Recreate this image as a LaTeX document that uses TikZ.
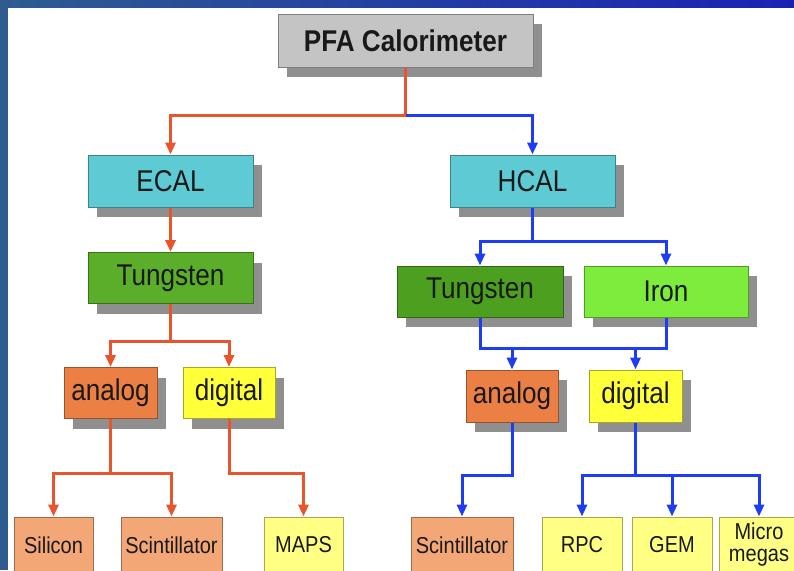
\documentclass[tikz,border=0pt]{standalone}
\usepackage{fontspec}
\setmainfont{Liberation Sans}[FakeStretch=0.87]
\usetikzlibrary{arrows.meta,shadows,calc}
\definecolor{stblue}{HTML}{2E5C8F}
\definecolor{deepblue}{HTML}{1A22B4}
\definecolor{lred}{HTML}{E8542C}
\definecolor{lblue}{HTML}{1E3CF5}
\definecolor{pfafill}{HTML}{C4C4C4}
\definecolor{shgray}{HTML}{8F8F8F}
\definecolor{cyanfill}{HTML}{5ECAD4}
\definecolor{tungL}{HTML}{5AAE2A}
\definecolor{tungR}{HTML}{4DA01F}
\definecolor{ironfill}{HTML}{7EEC3C}
\definecolor{anfill}{HTML}{EC8044}
\definecolor{digfill}{HTML}{FFFF3A}
\definecolor{leafor}{HTML}{F3A676}
\definecolor{leafye}{HTML}{FFFF84}
\tikzset{
  boxbase/.style={rectangle, inner sep=0pt, line width=1pt, text=black!90},
  shbox/.style={boxbase, fill=#1, draw=#1!65!black,
    drop shadow={shadow xshift=9pt, shadow yshift=-10pt, fill=shgray, draw=none, opacity=1},
    font=\fontsize{30}{32}\selectfont},
  leafbox/.style={boxbase, fill=#1, draw=#1!65!black, minimum height=56pt,
    align=center, font=\fontsize{23}{22}\selectfont},
  conn/.style={line width=3pt, line join=miter, -{Triangle[length=12pt,width=10pt]}},
  redl/.style={conn, draw=lred},
  bluel/.style={conn, draw=lblue},
}
\begin{document}
\begin{tikzpicture}[x=1pt,y=-1pt]
\clip (0,0) rectangle (794,570);
\fill[white] (0,0) rectangle (794,570);
\fill[stblue] (0,0) rectangle (8,570);
\shade[left color=stblue, right color=deepblue] (0,0) rectangle (794,7);

% top
\node[shbox=pfafill, minimum width=255pt, minimum height=53pt, font=\bfseries\fontsize{30}{32}\selectfont] (pfa) at (405.5,40.5) {PFA Calorimeter};
\node[shbox=cyanfill, minimum width=165pt, minimum height=52pt] (ecal) at (170.5,181) {ECAL};
\node[shbox=cyanfill, minimum width=165pt, minimum height=52pt] (hcal) at (532.5,181) {HCAL};

% ECAL branch
\node[shbox=tungL, minimum width=165pt, minimum height=51pt] (tl) at (170.5,278) {Tungsten};
\node[shbox=anfill, minimum width=93pt, minimum height=51pt] (anl) at (110.5,393) {analog};
\node[shbox=digfill, minimum width=92pt, minimum height=51pt] (dgl) at (229,393) {digital};
\node[leafbox=leafor, minimum width=79pt] (sil) at (53.5,545) {Silicon};
\node[leafbox=leafor, minimum width=101pt] (scl) at (171.5,545) {Scintillator};
\node[leafbox=leafye, minimum width=79pt] (maps) at (303.5,545) {MAPS};

% HCAL branch
\node[shbox=tungR, minimum width=166pt, minimum height=51pt] (tr) at (480,291.5) {Tungsten};
\node[shbox=ironfill, minimum width=164pt, minimum height=51pt] (iron) at (666,291.5) {Iron};
\node[shbox=anfill, minimum width=92pt, minimum height=52pt] (anr) at (512,396) {analog};
\node[shbox=digfill, minimum width=93pt, minimum height=52pt] (dgr) at (635.5,396) {digital};
\node[leafbox=leafor, minimum width=102pt] (scr) at (462,545) {Scintillator};
\node[leafbox=leafye, minimum width=80pt] (rpc) at (582,545) {RPC};
\node[leafbox=leafye, minimum width=80pt] (gem) at (672,545) {GEM};
\node[leafbox=leafye, minimum width=80pt] (micro) at (759,545) {Micro\\megas};

% connectors
\coordinate (j0) at ($(pfa.south)+(0,48)$);
\draw[redl] (pfa.south) -- (j0) -| (ecal.north);
\draw[bluel] (j0) -| (hcal.north);
\draw[redl] (ecal.south) -- (tl.north);
\coordinate (j1) at ($(tl.south)+(0,37)$);
\draw[redl] (tl.south) -- (j1) -| (anl.north);
\draw[redl] (j1) -| (dgl.north);
\coordinate (j2) at ($(anl.south)+(0,54)$);
\draw[redl] (anl.south) -- (j2) -| (sil.north);
\draw[redl] (j2) -| (scl.north);
\coordinate (j3) at ($(dgl.south)+(0,54)$);
\draw[redl] (dgl.south) -- (j3) -| (maps.north);

\coordinate (k1) at ($(hcal.south)+(0,34)$);
\draw[bluel] (hcal.south) -- (k1) -| (tr.north);
\draw[bluel] (k1) -| (iron.north);
\coordinate (k2) at ($(tr.south)+(0,31)$);
\draw[lblue, line width=3pt, line join=miter] (tr.south) -- (k2) -| (iron.south);
\draw[bluel] (k2 -| anr.north) -- (anr.north);
\draw[bluel] (k2 -| dgr.north) -- (dgr.north);
\coordinate (k4) at ($(anr.south)+(0,53)$);
\draw[bluel] (anr.south) -- (k4) -| (scr.north);
\coordinate (k3) at ($(dgr.south)+(0,53)$);
\draw[bluel] (dgr.south) -- (k3) -| (rpc.north);
\draw[bluel] (k3) -| (gem.north);
\draw[bluel] (k3) -| (micro.north);
\end{tikzpicture}
\end{document}
